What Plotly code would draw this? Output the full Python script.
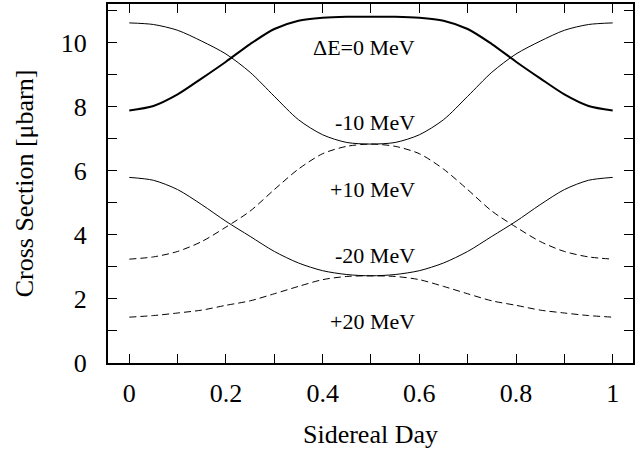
import plotly.graph_objects as go

# Sidereal day phase
day = [0.00, 0.05, 0.10, 0.15, 0.20, 0.25, 0.30, 0.35, 0.40, 0.45, 0.50,
       0.55, 0.60, 0.65, 0.70, 0.75, 0.80, 0.85, 0.90, 0.95, 1.00]

# Cross sections [microbarn]
de_0 = [7.88, 8.02, 8.38, 8.88, 9.40, 9.95, 10.42, 10.68, 10.77, 10.80, 10.80,
        10.80, 10.77, 10.68, 10.42, 9.95, 9.40, 8.88, 8.38, 8.02, 7.88]
de_m10 = [10.61, 10.56, 10.38, 10.04, 9.64, 9.07, 8.32, 7.59, 7.12, 6.88, 6.83,
          6.88, 7.12, 7.59, 8.32, 9.07, 9.64, 10.04, 10.38, 10.56, 10.61]
de_p10 = [3.24, 3.31, 3.48, 3.79, 4.24, 4.74, 5.41, 6.05, 6.53, 6.76, 6.83,
          6.76, 6.53, 6.05, 5.41, 4.74, 4.24, 3.79, 3.48, 3.31, 3.24]
de_m20 = [5.79, 5.70, 5.41, 4.94, 4.42, 3.95, 3.48, 3.12, 2.88, 2.76, 2.72,
          2.76, 2.88, 3.12, 3.48, 3.95, 4.42, 4.94, 5.41, 5.70, 5.79]
de_p20 = [1.43, 1.48, 1.56, 1.65, 1.80, 1.94, 2.16, 2.39, 2.60, 2.70, 2.72,
          2.70, 2.60, 2.39, 2.16, 1.94, 1.80, 1.65, 1.56, 1.48, 1.43]

labels = ["ΔE=0 MeV", "-10 MeV", "+10 MeV", "-20 MeV", "+20 MeV"]
label_x = [0.595, 0.595, 0.595, 0.595, 0.595]
label_y = [9.84, 7.50, 5.41, 3.35, 1.29]

x_ticks = [0.0, 0.1, 0.2, 0.3, 0.4, 0.5, 0.6, 0.7, 0.8, 0.9, 1.0]
x_ticktext = ["0", "", "0.2", "", "0.4", "", "0.6", "", "0.8", "", "1"]
y_ticks = [0, 1, 2, 3, 4, 5, 6, 7, 8, 9, 10, 11]
y_ticktext = ["0", "", "2", "", "4", "", "6", "", "8", "", "10", ""]

FONT = "Liberation Serif"

fig = go.Figure()
series = [
    (de_0, 2.0, "solid"),
    (de_m10, 1.0, "solid"),
    (de_p10, 1.0, "7px,4px"),
    (de_m20, 1.0, "solid"),
    (de_p20, 1.0, "7px,4px"),
]
for ys, w, d in series:
    fig.add_trace(go.Scatter(x=day, y=ys, mode="lines",
                             line=dict(color="black", width=w, dash=d, shape="spline", smoothing=0.8),
                             hoverinfo="skip"))

for t, xx, yy in zip(labels, label_x, label_y):
    fig.add_annotation(x=xx, y=yy, text=t, showarrow=False, xanchor="right", yanchor="middle",
                       font=dict(family=FONT, size=22, color="black"))

axis_common = dict(showline=True, linewidth=2, linecolor="black", mirror="ticks",
                   ticks="inside", ticklen=9, tickwidth=1, tickcolor="black",
                   showgrid=False, zeroline=False,
                   tickfont=dict(family=FONT, size=26, color="black"))

fig.update_xaxes(range=[-0.044, 1.042], tickvals=x_ticks, ticktext=x_ticktext,
                 ticklabelstandoff=6,
                 title=dict(text="Sidereal Day", font=dict(family=FONT, size=26, color="black"), standoff=18),
                 **axis_common)
fig.update_yaxes(range=[0, 11.2], tickvals=y_ticks, ticktext=y_ticktext,
                 ticklabelstandoff=14,
                 title=dict(text="Cross Section [μbarn]", font=dict(family=FONT, size=26, color="black"), standoff=20),
                 **axis_common)

fig.update_layout(width=644, height=451, margin=dict(l=108, r=11, t=4, b=88, autoexpand=False),
                  plot_bgcolor="white", paper_bgcolor="white", showlegend=False,
                  font=dict(family=FONT, color="black"))

fig.write_html("out.html", config={"displayModeBar": False},
               post_script="document.body.style.margin='0px';")
